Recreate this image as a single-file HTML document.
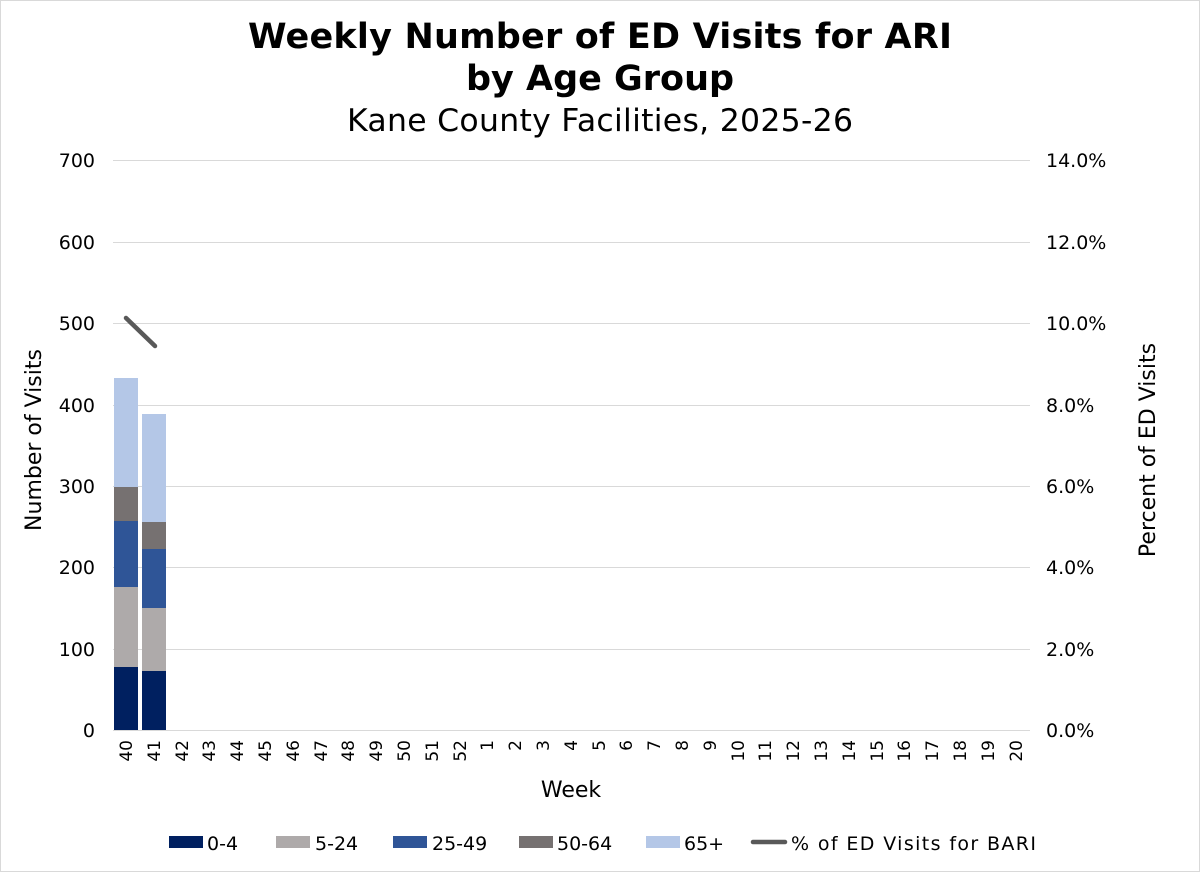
<!DOCTYPE html><html><head><style>body{margin:0;background:#fff}svg{display:block}text{font-family:"DejaVu Sans","Liberation Sans",sans-serif;fill:#000}</style></head><body>
<svg width="1200" height="872" viewBox="0 0 1200 872">
<rect x="0.5" y="0.5" width="1199" height="871" fill="#fff" stroke="#d9d9d9"/>
<text x="600" y="48" text-anchor="middle" font-size="35" font-weight="bold" textLength="704">Weekly Number of ED Visits for ARI</text>
<text x="600" y="90" text-anchor="middle" font-size="35" font-weight="bold">by Age Group</text>
<text x="600" y="131" text-anchor="middle" font-size="31.5" textLength="506">Kane County Facilities, 2025-26</text>
<g stroke="#d9d9d9" stroke-width="1">
<line x1="113" x2="1030" y1="160.5" y2="160.5"/><line x1="113" x2="1030" y1="242.5" y2="242.5"/><line x1="113" x2="1030" y1="323.5" y2="323.5"/><line x1="113" x2="1030" y1="405.5" y2="405.5"/><line x1="113" x2="1030" y1="486.5" y2="486.5"/><line x1="113" x2="1030" y1="567.5" y2="567.5"/><line x1="113" x2="1030" y1="649.5" y2="649.5"/><line x1="113" x2="1030" y1="730.5" y2="730.5"/>
</g>
<g font-size="19" text-anchor="end">
<text x="95" y="167">700</text><text x="95" y="249">600</text><text x="95" y="330">500</text><text x="95" y="412">400</text><text x="95" y="493">300</text><text x="95" y="574">200</text><text x="95" y="656">100</text><text x="95" y="737">0</text>
</g>
<g font-size="19" text-anchor="start">
<text x="1046" y="167">14.0%</text><text x="1046" y="249">12.0%</text><text x="1046" y="330">10.0%</text><text x="1046" y="412">8.0%</text><text x="1046" y="493">6.0%</text><text x="1046" y="574">4.0%</text><text x="1046" y="656">2.0%</text><text x="1046" y="737">0.0%</text>
</g>
<text transform="translate(41,440) rotate(-90)" text-anchor="middle" font-size="22">Number of Visits</text>
<text transform="translate(1155,450) rotate(-90)" text-anchor="middle" font-size="22">Percent of ED Visits</text>
<rect x="114" y="667" width="24" height="63" fill="#002060"/>
<rect x="114" y="587" width="24" height="80" fill="#aeaaaa"/>
<rect x="114" y="521" width="24" height="66" fill="#2f5597"/>
<rect x="114" y="487" width="24" height="34" fill="#767171"/>
<rect x="114" y="378" width="24" height="109" fill="#b4c7e7"/>
<rect x="142" y="671" width="24" height="59" fill="#002060"/>
<rect x="142" y="608" width="24" height="63" fill="#aeaaaa"/>
<rect x="142" y="549" width="24" height="59" fill="#2f5597"/>
<rect x="142" y="522" width="24" height="27" fill="#767171"/>
<rect x="142" y="414" width="24" height="108" fill="#b4c7e7"/>
<line x1="126" y1="318" x2="155" y2="346" stroke="#595959" stroke-width="4.5" stroke-linecap="round"/>
<g font-size="17" text-anchor="end">
<text transform="translate(132,740) rotate(-90)">40</text>
<text transform="translate(160,740) rotate(-90)">41</text>
<text transform="translate(188,740) rotate(-90)">42</text>
<text transform="translate(215,740) rotate(-90)">43</text>
<text transform="translate(243,740) rotate(-90)">44</text>
<text transform="translate(271,740) rotate(-90)">45</text>
<text transform="translate(299,740) rotate(-90)">46</text>
<text transform="translate(327,740) rotate(-90)">47</text>
<text transform="translate(354,740) rotate(-90)">48</text>
<text transform="translate(382,740) rotate(-90)">49</text>
<text transform="translate(410,740) rotate(-90)">50</text>
<text transform="translate(438,740) rotate(-90)">51</text>
<text transform="translate(466,740) rotate(-90)">52</text>
<text transform="translate(493,740) rotate(-90)">1</text>
<text transform="translate(521,740) rotate(-90)">2</text>
<text transform="translate(549,740) rotate(-90)">3</text>
<text transform="translate(577,740) rotate(-90)">4</text>
<text transform="translate(605,740) rotate(-90)">5</text>
<text transform="translate(632,740) rotate(-90)">6</text>
<text transform="translate(660,740) rotate(-90)">7</text>
<text transform="translate(688,740) rotate(-90)">8</text>
<text transform="translate(716,740) rotate(-90)">9</text>
<text transform="translate(744,740) rotate(-90)">10</text>
<text transform="translate(771,740) rotate(-90)">11</text>
<text transform="translate(799,740) rotate(-90)">12</text>
<text transform="translate(827,740) rotate(-90)">13</text>
<text transform="translate(855,740) rotate(-90)">14</text>
<text transform="translate(883,740) rotate(-90)">15</text>
<text transform="translate(910,740) rotate(-90)">16</text>
<text transform="translate(938,740) rotate(-90)">17</text>
<text transform="translate(966,740) rotate(-90)">18</text>
<text transform="translate(994,740) rotate(-90)">19</text>
<text transform="translate(1022,740) rotate(-90)">20</text>
</g>
<text x="571" y="797" text-anchor="middle" font-size="22">Week</text>
<g font-size="19">
<rect x="169" y="836" width="34" height="12" fill="#002060"/><text x="207" y="850">0-4</text>
<rect x="276" y="836" width="34" height="12" fill="#aeaaaa"/><text x="315" y="850">5-24</text>
<rect x="393" y="836" width="34" height="12" fill="#2f5597"/><text x="432" y="850">25-49</text>
<rect x="519" y="836" width="34" height="12" fill="#767171"/><text x="557" y="850">50-64</text>
<rect x="646" y="836" width="34" height="12" fill="#b4c7e7"/><text x="684" y="850">65+</text>
<line x1="753" y1="842" x2="785" y2="842" stroke="#595959" stroke-width="4.5" stroke-linecap="round"/><text x="791" y="850" textLength="245">% of ED Visits for BARI</text>
</g>
</svg></body></html>
